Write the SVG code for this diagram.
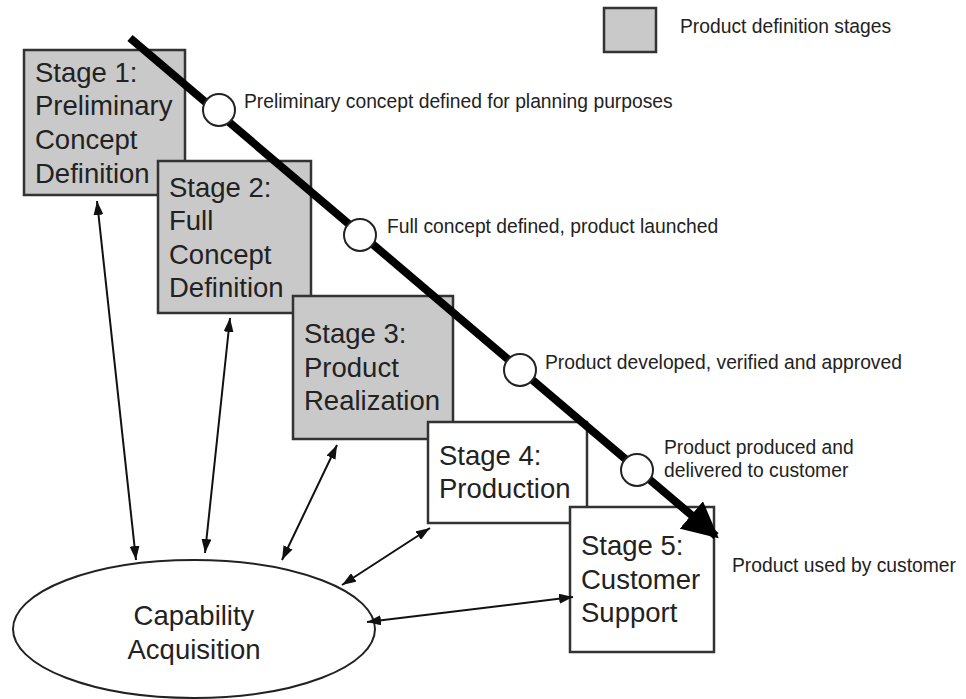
<svg xmlns="http://www.w3.org/2000/svg" width="966" height="699" viewBox="0 0 966 699">
<style>
.box{stroke:#333;stroke-width:2.5}
.gray{fill:#c9c9c9}
.white{fill:#fff}
.big{font-family:"Liberation Sans",Arial,sans-serif;font-size:27.5px;fill:#222}
.small{font-family:"Liberation Sans",Arial,sans-serif;font-size:19.3px;fill:#222}
.dbl{stroke:#111;stroke-width:2;fill:none;marker-start:url(#ah);marker-end:url(#ah)}
</style>
<defs>
<marker id="ah" viewBox="0 0 14 10" refX="14" refY="5" markerWidth="14" markerHeight="10" markerUnits="userSpaceOnUse" orient="auto-start-reverse">
<path d="M0,0 L14,5 L0,10 z" fill="#111"/>
</marker>
<marker id="big" viewBox="0 0 10 10" refX="9" refY="5" markerWidth="4.5" markerHeight="4.5" orient="auto">
<path d="M0,0 L10,5 L0,10 z" fill="#000"/>
</marker>
</defs>
<rect width="966" height="699" fill="#fff"/>
<g id="legend">
<rect x="604" y="8" width="52" height="44" class="box gray"/>
<text x="680" y="33" class="small">Product definition stages</text>
</g>
<g id="stage1">
<rect x="24" y="50" width="161" height="145" class="box gray"/>
<text class="big"><tspan x="35" y="82">Stage 1:</tspan><tspan x="35" y="115">Preliminary</tspan><tspan x="35" y="149">Concept</tspan><tspan x="35" y="183">Definition</tspan></text>
</g>
<g id="stage2">
<rect x="158" y="161" width="153" height="152" class="box gray"/>
<text class="big"><tspan x="169" y="197">Stage 2:</tspan><tspan x="169" y="230">Full</tspan><tspan x="169" y="264">Concept</tspan><tspan x="169" y="297">Definition</tspan></text>
</g>
<g id="stage3">
<rect x="293" y="296" width="160" height="143" class="box gray"/>
<text class="big"><tspan x="304" y="343">Stage 3:</tspan><tspan x="304" y="377">Product</tspan><tspan x="304" y="410">Realization</tspan></text>
</g>
<g id="stage4">
<rect x="428" y="422" width="159" height="101" class="box white"/>
<text class="big"><tspan x="439" y="465">Stage 4:</tspan><tspan x="439" y="498">Production</tspan></text>
</g>
<g id="stage5">
<rect x="570" y="507" width="144" height="145" class="box white"/>
<text class="big"><tspan x="581" y="555">Stage 5:</tspan><tspan x="581" y="589">Customer</tspan><tspan x="581" y="622">Support</tspan></text>
</g>
<g id="capability">
<ellipse cx="194" cy="629" rx="181" ry="69" fill="#fff" stroke="#222" stroke-width="2"/>
<text class="big" text-anchor="middle"><tspan x="194" y="625">Capability</tspan><tspan x="194" y="659">Acquisition</tspan></text>
</g>
<g id="connectors">
<line x1="130" y1="38" x2="716" y2="536" stroke="#000" stroke-width="8" marker-end="url(#big)"/>
<line x1="97" y1="201" x2="136" y2="560" class="dbl"/>
<line x1="230" y1="318" x2="205" y2="553" class="dbl"/>
<line x1="337" y1="445" x2="282" y2="560" class="dbl"/>
<line x1="430" y1="528" x2="342" y2="585" class="dbl"/>
<line x1="573" y1="597" x2="367" y2="622" class="dbl"/>
</g>
<g id="milestones" fill="#fff" stroke="#222" stroke-width="2">
<circle cx="219" cy="110" r="16"/>
<circle cx="360" cy="235" r="16"/>
<circle cx="520" cy="370" r="16"/>
<circle cx="637" cy="470" r="16"/>
</g>
<g id="labels">
<text x="244" y="108" class="small">Preliminary concept defined for planning purposes</text>
<text x="387" y="233" class="small">Full concept defined, product launched</text>
<text x="545" y="369" class="small">Product developed, verified and approved</text>
<text x="664" y="454" class="small">Product produced and</text>
<text x="664" y="477" class="small">delivered to customer</text>
<text x="732" y="572" class="small">Product used by customer</text>
</g>
</svg>
